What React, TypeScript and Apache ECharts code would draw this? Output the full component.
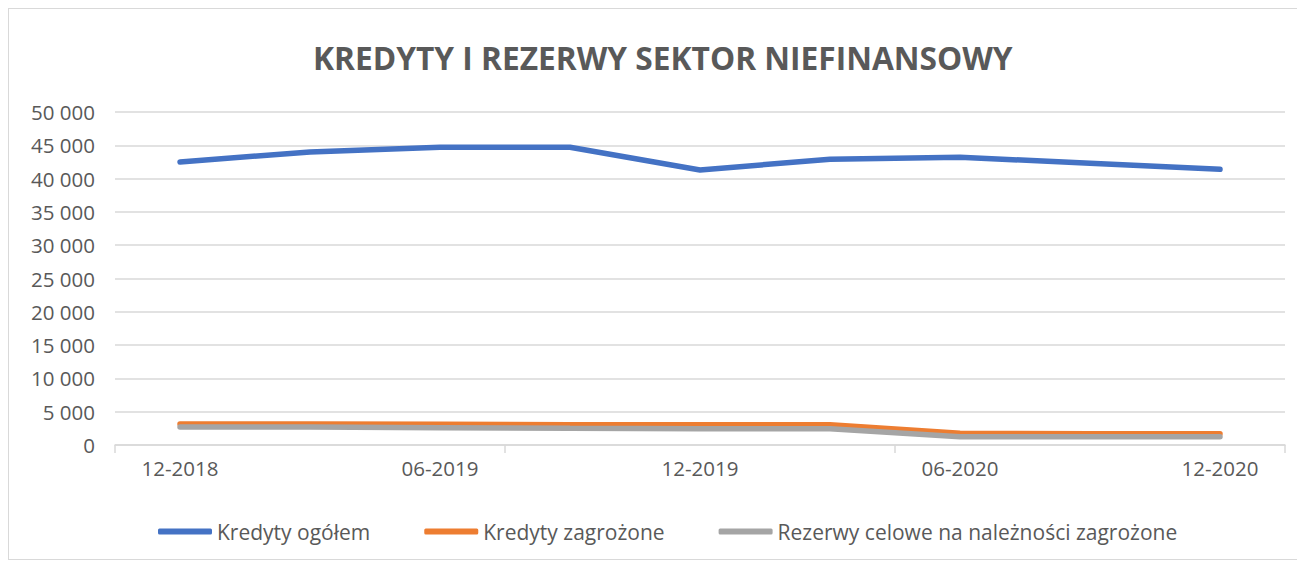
import React, { useEffect, useRef } from "react";
import * as echarts from "echarts";

const categories = ["12-2018", "03-2019", "06-2019", "09-2019", "12-2019", "03-2020", "06-2020", "09-2020", "12-2020"];
const kredytyOgolem = [42500, 44000, 44700, 44700, 41300, 42900, 43200, 42300, 41400];
const kredytyZagrozone = [3150, 3150, 3100, 3050, 3050, 3050, 1750, 1700, 1700];
const rezerwy = [2700, 2700, 2600, 2500, 2450, 2450, 1250, 1250, 1250];
const seriesNames = ["Kredyty ogółem", "Kredyty zagrożone", "Rezerwy celowe na należności zagrożone"];
const colors = ["#4472C4", "#ED7D31", "#A5A5A5"];

const FONT = "'Open Sans', sans-serif";

export default function App() {
  const ref = useRef<HTMLDivElement>(null);
  useEffect(() => {
    if (!ref.current) return;
    const chart = echarts.init(ref.current, undefined, { renderer: "svg" });
    const fmt = (v: number) => String(v).replace(/\B(?=(\d{3})+(?!\d))/g, " ");
    chart.setOption({
      animation: false,
      title: {
        text: "KREDYTY I REZERWY SEKTOR NIEFINANSOWY",
        left: 299,
        top: 27,
        textStyle: { fontFamily: FONT, fontSize: 31.7, fontWeight: "bold", color: "#595959" },
      },
      legend: {
        top: 507,
        left: 144,
        itemWidth: 54,
        itemHeight: 6,
        itemGap: 54,
        icon: "roundRect",
        textStyle: { fontFamily: FONT, fontSize: 21, color: "#595959" },
        data: seriesNames,
      },
      grid: { left: 106, right: 12, top: 103, bottom: 114, containLabel: false },
      xAxis: {
        type: "category",
        data: categories,
        boundaryGap: true,
        axisLine: { lineStyle: { color: "#D9D9D9", width: 1.5 } },
        axisTick: { show: true, interval: 2, length: 8, lineStyle: { color: "#D9D9D9", width: 1.5 } },
        axisLabel: { interval: 1, margin: 12, fontFamily: FONT, fontSize: 20.5, color: "#595959" },
      },
      yAxis: {
        type: "value",
        min: 0,
        max: 50000,
        interval: 5000,
        axisLine: { show: false },
        axisTick: { show: false },
        splitLine: { lineStyle: { color: "#D9D9D9", width: 1.5 } },
        axisLabel: { margin: 20, fontFamily: FONT, fontSize: 20.5, color: "#595959", formatter: fmt },
      },
      series: [
        { name: seriesNames[0], type: "line", data: kredytyOgolem, showSymbol: false, symbol: "none", lineStyle: { width: 5.5, color: colors[0], cap: "round" }, itemStyle: { color: colors[0] } },
        { name: seriesNames[1], type: "line", data: kredytyZagrozone, showSymbol: false, symbol: "none", lineStyle: { width: 5.5, color: colors[1], cap: "round" }, itemStyle: { color: colors[1] } },
        { name: seriesNames[2], type: "line", data: rezerwy, showSymbol: false, symbol: "none", lineStyle: { width: 5.5, color: colors[2], cap: "round" }, itemStyle: { color: colors[2] } },
      ],
    });
    return () => chart.dispose();
  }, []);
  return (
    <div style={{ border: "1px solid #D9D9D9", width: 1288, height: 550, background: "#fff" }}>
      <div ref={ref} style={{ width: 1288, height: 550 }} />
    </div>
  );
}
